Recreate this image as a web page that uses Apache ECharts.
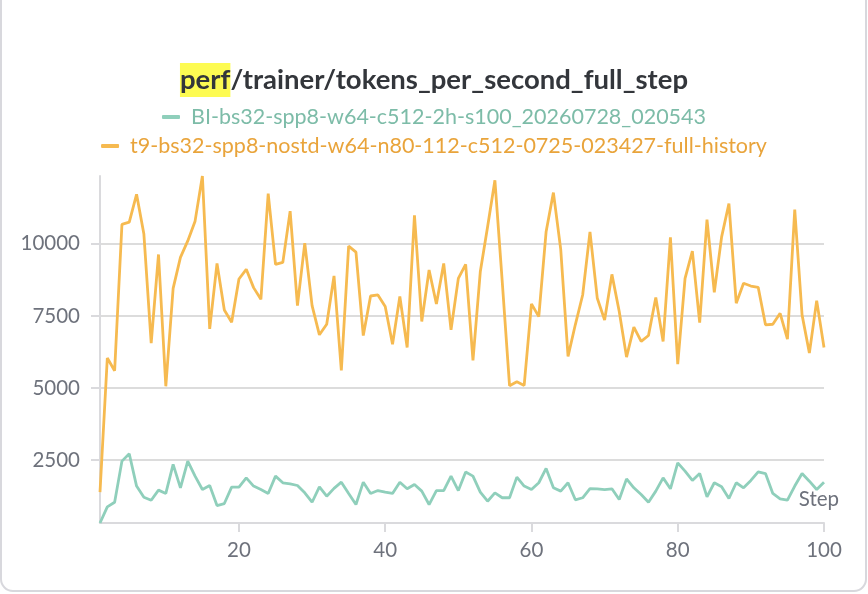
<!DOCTYPE html>
<html>
<head>
<meta charset="utf-8">
<script src="https://cdn.jsdelivr.net/npm/echarts@6/dist/echarts.min.js"></script>
<style>
  html, body { margin: 0; padding: 0; background: #fff; }
  #chart { width: 868px; height: 594px; }
</style>
</head>
<body>
<div id="chart"></div>
<script>
// steps 1..100
var steps = [];
for (var i = 1; i <= 100; i++) steps.push(i);

var greenName = 'BI-bs32-spp8-w64-c512-2h-s100_20260728_020543';
var orangeName = 't9-bs32-spp8-nostd-w64-n80-112-c512-0725-023427-full-history';

var greenVals = [
  320, 880, 1040, 2465, 2720, 1600, 1215, 1110, 1460, 1345,
  2350, 1540, 2465, 1945, 1480, 1620, 925, 995, 1565, 1565,
  1885, 1600, 1480, 1345, 1945, 1715, 1680, 1620, 1365, 1040,
  1575, 1250, 1520, 1735, 1345, 960, 1735, 1345, 1445, 1390,
  1345, 1735, 1505, 1655, 1425, 960, 1445, 1445, 1945, 1445,
  2085, 1945, 1390, 1075, 1365, 1195, 1195, 1910, 1600, 1480,
  1715, 2210, 1540, 1425, 1715, 1125, 1195, 1515, 1505, 1480,
  1505, 1135, 1850, 1540, 1310, 1040, 1425, 1885, 1505, 2405,
  2120, 1795, 2035, 1225, 1715, 1575, 1170, 1715, 1540, 1795,
  2095, 2035, 1345, 1160, 1110, 1600, 2035, 1770, 1480, 1735
];

var orangeVals = [
  1390, 6040, 5600, 10670, 10750, 11715, 10335, 6555, 9630, 5060,
  8455, 9530, 10100, 10785, 12350, 7050, 9320, 7705, 7280, 8780,
  9115, 8480, 8075, 11740, 9285, 9355, 11130, 7855, 10025, 7855,
  6845, 7210, 8885, 5610, 9920, 9710, 6820, 8190, 8225, 7825,
  6520, 8170, 6405, 10990, 7305, 9090, 7915, 9320, 7015, 8800,
  9285, 5955, 9030, 10590, 12200, 8700, 5080, 5220, 5090, 7915,
  7475, 10415, 11775, 9805, 6095, 7200, 8225, 10415, 8110, 7360,
  8940, 7650, 6070, 7110, 6615, 6820, 8135, 6615, 10220, 5830,
  8800, 9745, 7270, 10840, 8320, 10240, 11395, 7940, 8630, 8535,
  8490, 7190, 7210, 7590, 6695, 11185, 7535, 6210, 8030, 6405
];

var yTicks = [2500, 5000, 7500, 10000];
var xTicks = [20, 40, 60, 80, 100];

var greenColor = '#8fcfbb';
var orangeColor = '#f6ba50';
var axisGray = '#6e727c';
var fontFam = 'Lato, "Noto Sans", sans-serif';

function pairs(vals) {
  return vals.map(function(v, i) { return [steps[i], v]; });
}

var myChart = echarts.init(document.getElementById('chart'));
var option = {
  backgroundColor: '#fff',
  animation: false,
  title: {
    text: '{hl|perf}/trainer/tokens_per_second_full_step',
    left: 'center',
    top: 58,
    textStyle: {
      fontFamily: fontFam,
      fontSize: 27.5,
      fontWeight: 'bold',
      color: '#33363b',
      rich: {
        hl: {
          fontFamily: fontFam,
          fontSize: 27.5,
          fontWeight: 'bold',
          color: '#33363b',
          backgroundColor: '#fdfb52',
          padding: [3, 0, 3, 0]
        }
      }
    }
  },
  legend: [{
    data: [greenName],
    left: 'center',
    top: 101,
    icon: 'roundRect',
    itemWidth: 18,
    itemHeight: 4,
    itemGap: 10,
    textStyle: { color: '#7dbca8', fontFamily: fontFam, fontSize: 21.5, padding: [0, 0, 0, 6] }
  }, {
    data: [orangeName],
    left: 'center',
    top: 130,
    icon: 'roundRect',
    itemWidth: 18,
    itemHeight: 4,
    itemGap: 10,
    textStyle: { color: '#e9a43b', fontFamily: fontFam, fontSize: 21.5, padding: [0, 0, 0, 6] }
  }],
  grid: {
    left: 100,
    right: 44,
    top: 176,
    bottom: 71
  },
  xAxis: {
    type: 'value',
    min: 1,
    max: 100,
    axisLine: { lineStyle: { color: '#dadadd', width: 2 } },
    axisTick: {
      show: true,
      length: 9,
      lineStyle: { color: '#dadadd', width: 2 },
      customValues: xTicks
    },
    axisLabel: {
      customValues: xTicks,
      color: axisGray,
      fontFamily: fontFam,
      fontSize: 20.5,
      margin: 17
    },
    splitLine: { show: false }
  },
  yAxis: {
    type: 'value',
    min: 'dataMin',
    max: 'dataMax',
    axisLine: { show: true, lineStyle: { color: '#dadadd', width: 2 } },
    axisTick: {
      show: true,
      length: 9,
      lineStyle: { color: '#dadadd', width: 2 },
      customValues: yTicks
    },
    axisLabel: {
      customValues: yTicks,
      formatter: function(v) { return String(v); },
      color: axisGray,
      fontFamily: fontFam,
      fontSize: 20.5,
      margin: 20
    },
    splitLine: { show: true, lineStyle: { color: '#dcdcdc', width: 2 } }
  },
  graphic: [{
    type: 'rect',
    shape: { x: 1, y: -20, width: 865, height: 611, r: 12 },
    style: { fill: 'none', stroke: '#d8d8dd', lineWidth: 2 },
    silent: true
  }, {
    type: 'text',
    right: 29,
    top: 489,
    style: {
      text: 'Step',
      fill: axisGray,
      font: '20.5px ' + fontFam
    }
  }],
  series: [{
    name: greenName,
    type: 'line',
    data: pairs(greenVals),
    showSymbol: false,
    color: greenColor,
    lineStyle: { width: 2.8, color: greenColor },
    z: 3
  }, {
    name: orangeName,
    type: 'line',
    data: pairs(orangeVals),
    showSymbol: false,
    color: orangeColor,
    lineStyle: { width: 2.8, color: orangeColor },
    z: 2
  }]
};
myChart.setOption(option);
</script>
</body>
</html>
